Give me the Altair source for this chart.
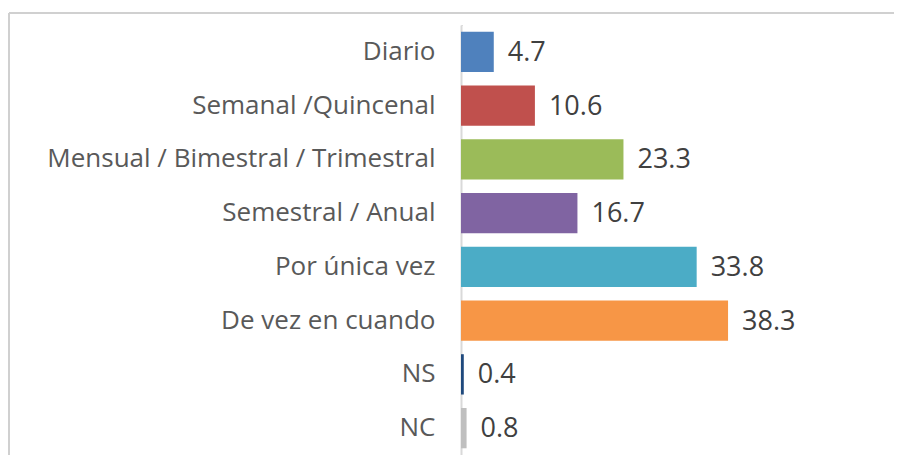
import altair as alt
import pandas as pd

categories = ["Diario", "Semanal /Quincenal", "Mensual / Bimestral / Trimestral",
              "Semestral / Anual", "Por única vez", "De vez en cuando", "NS", "NC"]
values = [4.7, 10.6, 23.3, 16.7, 33.8, 38.3, 0.4, 0.8]
colors = ["#4f81bd", "#c0504d", "#9bbb59", "#8064a2", "#4bacc6", "#f79646", "#1f497d", "#bfbfbf"]
labels = ["4.7", "10.6", "23.3", "16.7", "33.8", "38.3", "0.4", "0.8"]

df = pd.DataFrame({"cat": categories, "val": values, "color": colors, "label": labels})

FONT = "Open Sans"
W, H = 433, 430

y = alt.Y("cat:N", sort=categories, title=None,
          scale=alt.Scale(paddingInner=0.25, paddingOuter=0.125),
          axis=alt.Axis(labelFont=FONT, labelFontSize=26, labelColor="#595959",
                        labelPadding=26, ticks=False, domainColor="#d9d9d9",
                        domainWidth=2, labelLimit=600, grid=False))
x = alt.X("val:Q", scale=alt.Scale(domain=[0, 62.1], nice=False), axis=None)

bars = alt.Chart(df).mark_bar().encode(
    x=x, y=y, color=alt.Color("color:N", scale=None))

text = alt.Chart(df).mark_text(align="left", baseline="middle", dx=14, dy=1,
                               font=FONT, fontSize=27, color="#404040").encode(
    x=x, y=y, text="label:N")

frame_top = alt.Chart(df).mark_rule(color="#d0d0d0", strokeWidth=2).encode(
    x=alt.value(-452), x2=alt.value(W + 10), y=alt.value(-12))
frame_left = alt.Chart(df).mark_rule(color="#d0d0d0", strokeWidth=2).encode(
    x=alt.value(-452), y=alt.value(-12), y2=alt.value(H + 10))
cover = alt.Chart(df).mark_rule(color="white", strokeWidth=3).encode(
    x=alt.value(2), x2=alt.value(W + 10), y=alt.value(0))

chart = alt.layer(frame_top, frame_left, cover, bars, text).properties(
    width=W, height=H,
    autosize=alt.AutoSizeParams(type="none"),
    padding={"left": 453, "top": 17, "right": 0, "bottom": 0},
).configure_view(strokeWidth=0).configure(background="white")

chart.save("out.html", embed_options={"renderer": "svg", "actions": False})
